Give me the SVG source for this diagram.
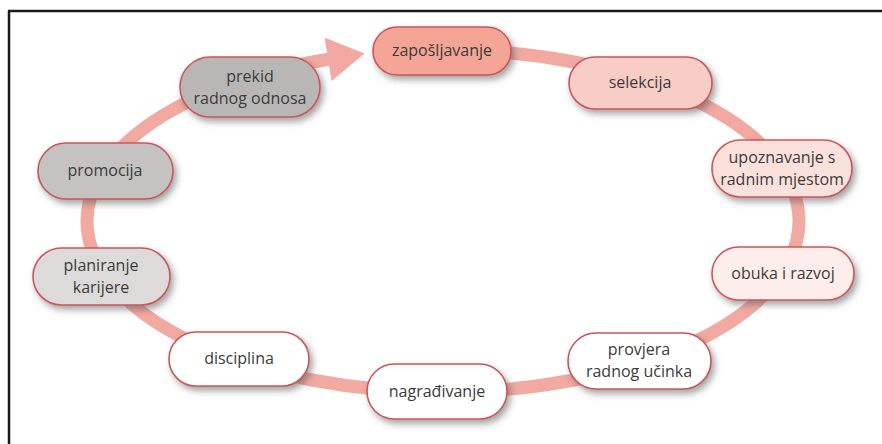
<svg xmlns="http://www.w3.org/2000/svg" width="882" height="444" viewBox="0 0 882 444">
  <style>
    .pill { stroke: #c9575b; stroke-width: 1.6; filter: url(#shadow); }
    .lbl { font-family: "Open Sans", "Noto Sans", "Liberation Sans", sans-serif; font-size: 16px; fill: #3b3b3b; text-anchor: middle; }
    .ring { fill: none; stroke: #f2a9a1; stroke-width: 13; }
  </style>
  <defs>
    <filter id="shadow" x="-20%" y="-30%" width="150%" height="170%">
      <feDropShadow dx="3" dy="4" stdDeviation="3.5" flood-color="#555" flood-opacity="0.55"/>
    </filter>
    <marker id="head" markerUnits="userSpaceOnUse" markerWidth="40" markerHeight="44" refX="2" refY="22" orient="auto" viewBox="0 0 40 44">
      <path d="M0,0 L37,22 L0,44 Z" fill="#f2a9a1"/>
    </marker>
  </defs>
  <rect x="0" y="0" width="882" height="444" fill="#ffffff"/>
  <path d="M8,11 H882 M9,11 V444" stroke="#1a1a1a" stroke-width="2.5" fill="none"/>

  <g id="connectors">
    <path class="ring" marker-end="url(#head)" d="M443,50 A356,171 0 0 1 799,221 A356,171 0 0 1 443,392 A356,171 0 0 1 87,221 A356,171 0 0 1 330,59"/>
  </g>

  <g id="n-prekid">
    <rect class="pill" x="180" y="57" width="140" height="60" rx="30" fill="#b9b7b5"/>
    <text class="lbl" x="250" y="82">prekid</text>
    <text class="lbl" x="250" y="104">radnog odnosa</text>
  </g>
  <g id="n-zaposljavanje">
    <rect class="pill" x="373" y="27" width="138" height="48" rx="24" fill="#f4a596"/>
    <text class="lbl" x="442" y="56">zapošljavanje</text>
  </g>
  <g id="n-selekcija">
    <rect class="pill" x="569" y="57" width="143" height="52" rx="26" fill="#f8cdc5"/>
    <text class="lbl" x="640" y="88">selekcija</text>
  </g>
  <g id="n-upoznavanje">
    <rect class="pill" x="712" y="140" width="140" height="57" rx="28.5" fill="#fbe1db"/>
    <text class="lbl" x="782" y="163">upoznavanje s</text>
    <text class="lbl" x="782" y="185">radnim mjestom</text>
  </g>
  <g id="n-obuka">
    <rect class="pill" x="712" y="247" width="142" height="53" rx="26.5" fill="#fdeeeb"/>
    <text class="lbl" x="783" y="279">obuka i razvoj</text>
  </g>
  <g id="n-provjera">
    <rect class="pill" x="568" y="333" width="143" height="56" rx="28" fill="#ffffff"/>
    <text class="lbl" x="639" y="355">provjera</text>
    <text class="lbl" x="639" y="377">radnog učinka</text>
  </g>
  <g id="n-nagradivanje">
    <rect class="pill" x="367" y="364" width="140" height="55" rx="27.5" fill="#ffffff"/>
    <text class="lbl" x="437" y="397">nagrađivanje</text>
  </g>
  <g id="n-disciplina">
    <rect class="pill" x="169" y="332" width="140" height="54" rx="27" fill="#ffffff"/>
    <text class="lbl" x="239" y="364">disciplina</text>
  </g>
  <g id="n-planiranje">
    <rect class="pill" x="33" y="248" width="137" height="57" rx="28.5" fill="#dddbd9"/>
    <text class="lbl" x="101" y="271">planiranje</text>
    <text class="lbl" x="101" y="293">karijere</text>
  </g>
  <g id="n-promocija">
    <rect class="pill" x="38" y="143" width="135" height="56" rx="28" fill="#c5c3c1"/>
    <text class="lbl" x="105" y="176">promocija</text>
  </g>
</svg>
